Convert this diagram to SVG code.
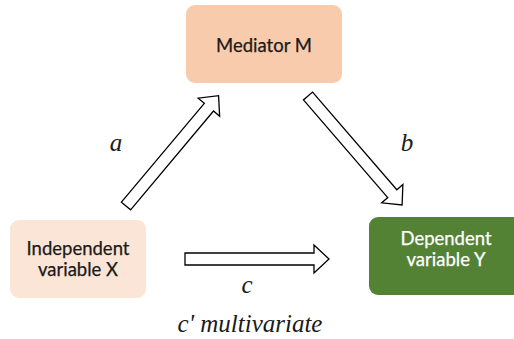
<svg xmlns="http://www.w3.org/2000/svg" width="514" height="339" viewBox="0 0 514 339">
  <defs>
    <style>
      .box-text { font-family: Lato, "Open Sans", "Liberation Sans", sans-serif; font-size: 18.5px; text-anchor: middle; }
      .dark { fill: #1a1a1a; stroke: #1a1a1a; stroke-width: 0.25; }
      .light { fill: #ffffff; stroke: #ffffff; stroke-width: 0.25; }
      .lbl { font-family: "Liberation Serif", "Times New Roman", serif; font-style: italic; font-size: 25px; fill: #1a1a1a; text-anchor: middle; }
      .arrow { fill: #ffffff; stroke: #000000; stroke-width: 1.3; stroke-linejoin: miter; }
    </style>
    <path id="blockArrow" d="M0,-6 L129,-6 L129,-14 L144,0 L129,14 L129,6 L0,6 Z"/>
  </defs>
  <rect width="514" height="339" fill="#ffffff"/>

  <g id="mediator">
    <rect x="186" y="5" width="156" height="78" rx="9" fill="#F8CBAD"/>
    <text class="box-text dark" x="264" y="52">Mediator M</text>
  </g>

  <g id="independent">
    <rect x="10" y="220" width="136" height="78" rx="9" fill="#FBE5D6"/>
    <text class="box-text dark" x="78" y="255">Independent</text>
    <text class="box-text dark" x="78" y="276">variable X</text>
  </g>

  <g id="dependent">
    <rect x="369" y="217" width="156" height="78" rx="9" fill="#548235"/>
    <text class="box-text light" x="446" y="245">Dependent</text>
    <text class="box-text light" x="446" y="266">variable Y</text>
  </g>

  <g id="connectors">
    <use href="#blockArrow" class="arrow" transform="translate(126,206) rotate(-50)"/>
    <use href="#blockArrow" class="arrow" transform="translate(308,96) rotate(49.2)"/>
    <use href="#blockArrow" class="arrow" transform="translate(185,259)"/>
  </g>

  <g id="labels">
    <text class="lbl" x="116" y="151">a</text>
    <text class="lbl" x="407" y="151">b</text>
    <text class="lbl" x="247" y="293">c</text>
    <text class="lbl" x="250" y="332">c' multivariate</text>
  </g>
</svg>
